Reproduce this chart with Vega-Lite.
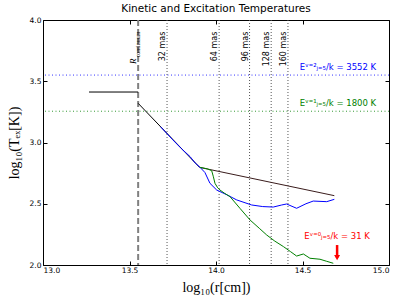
{
  "$schema": "https://vega.github.io/schema/vega-lite/v6.json",
  "width": 346,
  "height": 245,
  "autosize": {"type": "none"},
  "padding": {"left": 43, "top": 20, "right": 18, "bottom": 40},
  "background": "white",
  "title": {"text": "Kinetic and Excitation Temperatures", "font": "DejaVu Sans", "fontSize": 10.5, "fontWeight": "normal", "color": "black", "offset": 2},
  "config": {
    "view": {"stroke": "black", "strokeWidth": 1},
    "axis": {"grid": false, "domainColor": "black", "tickColor": "black", "labelColor": "black", "labelFont": "DejaVu Sans", "labelFontSize": 7.5, "titleFont": "Liberation Serif", "titleFontWeight": "normal", "titleFontSize": 14, "titleColor": "black"}
  },
  "datasets": {
    "curves": [
      {"s": "kin", "x": 13.266, "y": 3.412}, {"s": "kin", "x": 13.55, "y": 3.412},
      {"s": "kin2", "x": 13.55, "y": 3.32}, {"s": "kin2", "x": 13.905, "y": 2.797},
      {"s": "kin3", "x": 13.905, "y": 2.797}, {"s": "kin3", "x": 14.684, "y": 2.566},
      {"s": "blue", "x": 13.68, "y": 3.128}, {"s": "blue", "x": 13.75, "y": 3.022}, {"s": "blue", "x": 13.8, "y": 2.95},
      {"s": "blue", "x": 13.85, "y": 2.885}, {"s": "blue", "x": 13.88, "y": 2.832}, {"s": "blue", "x": 13.908, "y": 2.797},
      {"s": "blue", "x": 13.936, "y": 2.755}, {"s": "blue", "x": 13.965, "y": 2.667}, {"s": "blue", "x": 14.004, "y": 2.612},
      {"s": "blue", "x": 14.06, "y": 2.575}, {"s": "blue", "x": 14.12, "y": 2.531}, {"s": "blue", "x": 14.206, "y": 2.49},
      {"s": "blue", "x": 14.27, "y": 2.477}, {"s": "blue", "x": 14.331, "y": 2.473}, {"s": "blue", "x": 14.38, "y": 2.49},
      {"s": "blue", "x": 14.408, "y": 2.498}, {"s": "blue", "x": 14.466, "y": 2.463}, {"s": "blue", "x": 14.52, "y": 2.5},
      {"s": "blue", "x": 14.562, "y": 2.522}, {"s": "blue", "x": 14.64, "y": 2.517}, {"s": "blue", "x": 14.684, "y": 2.536},
      {"s": "green", "x": 13.908, "y": 2.797}, {"s": "green", "x": 13.95, "y": 2.785}, {"s": "green", "x": 13.975, "y": 2.77},
      {"s": "green", "x": 13.985, "y": 2.72}, {"s": "green", "x": 13.994, "y": 2.667}, {"s": "green", "x": 14.01, "y": 2.63},
      {"s": "green", "x": 14.023, "y": 2.612}, {"s": "green", "x": 14.05, "y": 2.585}, {"s": "green", "x": 14.081, "y": 2.558},
      {"s": "green", "x": 14.14, "y": 2.46}, {"s": "green", "x": 14.197, "y": 2.367}, {"s": "green", "x": 14.25, "y": 2.3},
      {"s": "green", "x": 14.293, "y": 2.245}, {"s": "green", "x": 14.34, "y": 2.195}, {"s": "green", "x": 14.39, "y": 2.15},
      {"s": "green", "x": 14.43, "y": 2.11}, {"s": "green", "x": 14.466, "y": 2.073}, {"s": "green", "x": 14.505, "y": 2.09},
      {"s": "green", "x": 14.543, "y": 2.055}, {"s": "green", "x": 14.601, "y": 2.047}, {"s": "green", "x": 14.64, "y": 2.03},
      {"s": "green", "x": 14.678, "y": 2.014}
    ],
    "vlines": [
      {"x": 13.717, "label": "32 mas"}, {"x": 14.018, "label": "64 mas"}, {"x": 14.194, "label": "96 mas"},
      {"x": 14.319, "label": "128 mas"}, {"x": 14.416, "label": "160 mas"}
    ],
    "hlines": [{"y": 3.5505, "s": "blue"}, {"y": 3.2553, "s": "green"}],
    "elabels": [
      {"x": 14.705, "y": 3.616, "t": "Eᵛ⁼²ⱼ₌₅/k = 3552 K", "s": "blue"},
      {"x": 14.705, "y": 3.322, "t": "Eᵛ⁼¹ⱼ₌₅/k = 1800 K", "s": "green"},
      {"x": 14.7, "y": 2.237, "t": "Eᵛ⁼⁰ⱼ₌₅/k = 31 K", "s": "red"}
    ],
    "arrow": [{"x": 14.7, "y": 2.163, "y2": 2.06}]
  },
  "resolve": {"axis": {"x": "independent", "y": "independent"}},
  "layer": [
    {
      "data": {"name": "curves"},
      "mark": {"type": "point", "opacity": 0},
      "encoding": {
        "x": {"field": "x", "type": "quantitative", "scale": {"domain": [13, 15], "nice": false, "zero": false},
              "axis": {"orient": "top", "labels": false, "title": null, "values": [13, 13.5, 14, 14.5, 15], "tickSize": -4, "domain": false}},
        "y": {"field": "y", "type": "quantitative", "scale": {"domain": [2, 4], "nice": false, "zero": false},
              "axis": {"orient": "right", "labels": false, "title": null, "values": [2, 2.5, 3, 3.5, 4], "tickSize": -4, "domain": false}}
      }
    },
    {
      "data": {"name": "vlines"},
      "mark": {"type": "rule", "color": "#555555", "strokeDash": [1, 2], "strokeWidth": 1},
      "encoding": {"x": {"field": "x", "type": "quantitative", "axis": null}}
    },
    {
      "data": {"values": [{"x": 13.55}]},
      "mark": {"type": "rule", "color": "#808080", "strokeDash": [6, 3], "strokeWidth": 2},
      "encoding": {"x": {"field": "x", "type": "quantitative", "axis": null}}
    },
    {
      "data": {"name": "hlines"},
      "mark": {"type": "rule", "strokeDash": [1, 2.5], "strokeWidth": 1, "opacity": 0.8},
      "encoding": {
        "y": {"field": "y", "type": "quantitative", "axis": null},
        "color": {"field": "s", "type": "nominal", "legend": null,
                  "scale": {"domain": ["kin", "kin2", "kin3", "blue", "green", "red"], "range": ["#000000", "#000000", "#3a1c1c", "#0000ff", "#008000", "#ff0000"]}}
      }
    },
    {
      "data": {"name": "curves"},
      "mark": {"type": "line", "strokeWidth": 1},
      "encoding": {
        "x": {"field": "x", "type": "quantitative",
              "axis": {"orient": "bottom", "values": [13, 13.5, 14, 14.5, 15], "format": ".1f", "tickSize": -4, "labelPadding": 5, "title": "log₁₀(r[cm])", "titlePadding": 7, "domain": false}},
        "y": {"field": "y", "type": "quantitative",
              "axis": {"orient": "left", "values": [2, 2.5, 3, 3.5, 4], "format": ".1f", "tickSize": -4, "labelPadding": 6, "title": "log₁₀(Tₑₓ[K])", "titlePadding": 8, "domain": false}},
        "color": {"field": "s", "type": "nominal", "legend": null},
        "detail": {"field": "s"}
      }
    },
    {
      "data": {"name": "vlines"},
      "mark": {"type": "text", "angle": 270, "align": "right", "baseline": "bottom", "font": "DejaVu Sans", "fontSize": 8, "color": "black"},
      "encoding": {
        "x": {"field": "x", "type": "quantitative", "axis": null},
        "y": {"datum": 3.905, "type": "quantitative", "axis": null},
        "text": {"field": "label"}
      }
    },
    {
      "data": {"values": [{"x": 13.55, "y": 3.905, "t": "continuum"}]},
      "mark": {"type": "text", "angle": 270, "align": "right", "baseline": "middle", "font": "Liberation Serif", "fontSize": 6, "color": "black"},
      "encoding": {
        "x": {"field": "x", "type": "quantitative", "axis": null},
        "y": {"field": "y", "type": "quantitative", "axis": null},
        "text": {"field": "t"}
      }
    },
    {
      "data": {"values": [{"x": 13.55, "y": 3.64, "t": "R"}]},
      "mark": {"type": "text", "angle": 270, "align": "left", "baseline": "bottom", "font": "Liberation Serif", "fontStyle": "italic", "fontSize": 9, "color": "black"},
      "encoding": {
        "x": {"field": "x", "type": "quantitative", "axis": null},
        "y": {"field": "y", "type": "quantitative", "axis": null},
        "text": {"field": "t"}
      }
    },
    {
      "data": {"name": "elabels"},
      "mark": {"type": "text", "align": "center", "baseline": "middle", "font": "DejaVu Sans", "fontSize": 8.5},
      "encoding": {
        "x": {"field": "x", "type": "quantitative", "axis": null},
        "y": {"field": "y", "type": "quantitative", "axis": null},
        "text": {"field": "t"},
        "color": {"field": "s", "type": "nominal", "legend": null}
      }
    },
    {
      "data": {"name": "arrow"},
      "mark": {"type": "rule", "color": "#ff0000", "strokeWidth": 2.5},
      "encoding": {
        "x": {"field": "x", "type": "quantitative", "axis": null},
        "y": {"field": "y", "type": "quantitative", "axis": null},
        "y2": {"field": "y2"}
      }
    },
    {
      "data": {"name": "arrow"},
      "mark": {"type": "point", "shape": "triangle-down", "filled": true, "color": "#ff0000", "size": 35, "opacity": 1},
      "encoding": {
        "x": {"field": "x", "type": "quantitative", "axis": null},
        "y": {"field": "y2", "type": "quantitative", "axis": null}
      }
    }
  ]
}
